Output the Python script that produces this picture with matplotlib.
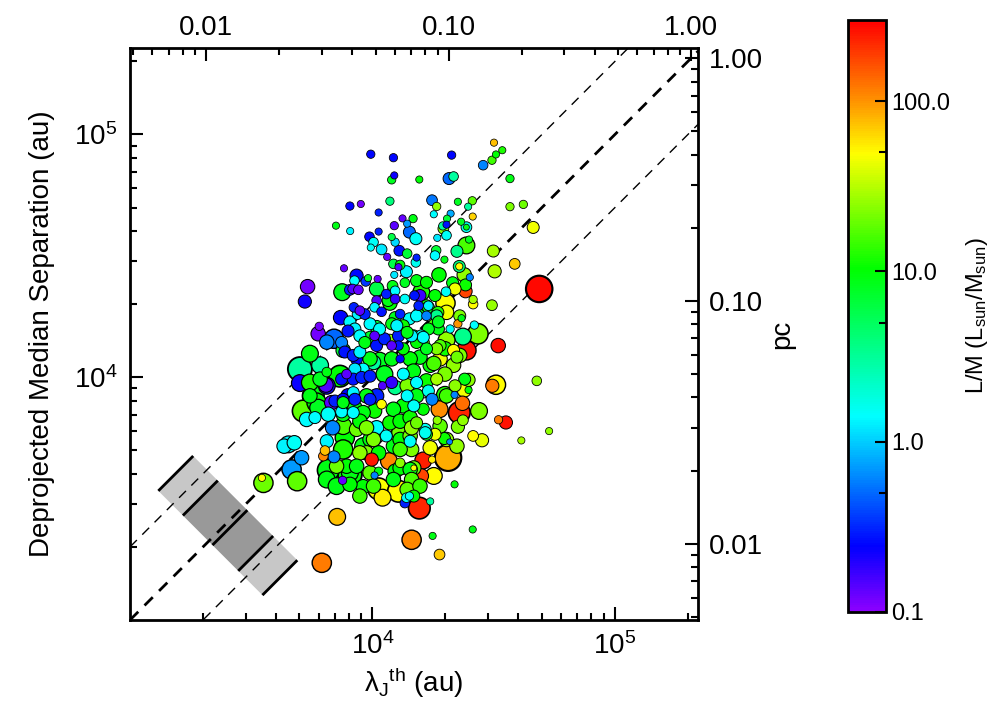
import numpy as np
import matplotlib.pyplot as plt
from matplotlib.colors import LinearSegmentedColormap, LogNorm
from matplotlib.ticker import FixedLocator, LogLocator, NullFormatter
from matplotlib.patches import Polygon

plt.rcParams['font.family'] = ['Liberation Sans', 'DejaVu Sans']
plt.rcParams['mathtext.fontset'] = 'custom'
plt.rcParams['mathtext.rm'] = 'Liberation Sans'
plt.rcParams['mathtext.it'] = 'Liberation Sans:italic'
plt.rcParams['mathtext.default'] = 'regular'

AU_PER_PC = 206265.0

# thermal Jeans length (au), deprojected median separation (au), L/M, core mass
lam_j = [
    # upper-left part of the cloud
    9840, 12200, 12300, 12000, 15600, 17600, 11800, 8070, 8950, 10600,
    7070, 8090, 13300, 14700, 12300, 13900, 14200, 15100, 9720, 10600,
    10100, 10900, 12000, 12400, 12900, 13900, 15200, 11500, 9840, 7630,
    12200, 13000, 15100, 12800, 13800, 12300, 8600, 8430, 9590, 10500,
    5400, 5260, 7500, 8070, 8280, 8750, 9380, 10400, 11400, 12100,
    12400, 13600, 15200, 15900, 15700, 14900, 11800, 12400, 13600, 10400,
    10200, 8680, 8380, 7390, 6940, 5970, 6030, 8870, 9300, 10900,
    12400, 13000, 14200, 15700, 16700, 16700, 10400, 12000, 13400, 8070,
    8460, 9770, 10700, 11800, 12800, 14800, 16200, 8870, 7570,
    # upper-right part
    31700, 34300, 32300, 31100, 21200, 28600, 20700, 21600, 36900, 18400,
    22500, 25800, 24800, 21000, 17900, 20300, 23200, 25900, 20200, 19500,
    19600, 24400, 24400, 20200, 18500, 36900, 41900, 46000, 25000, 24400,
    22300, 18300, 18100, 19800, 31500, 38600, 31900, 22800, 22800, 18800,
    23900, 24200, 25200, 24200, 26000, 31100, 20000, 18100, 17000, 18600,
    21400, 21900, 20100, 16700, 22900, 23300, 22500, 20900, 26300, 27200,
    23600, 18700, 17000, 15900, 24400, 33000, 48700, 21600, 19000, 26000,
    # lower-right part
    47600, 32300, 31200, 24900, 23900, 24900, 21800, 19900, 18900, 23500,
    22800, 27500, 23600, 22500, 18500, 33100, 35500, 53500, 41100, 26000,
    28300, 19800, 20800, 18100, 16700, 16500, 20500, 17600, 16200, 15900,
    21800, 17300, 15600, 25900, 17700, 18900, 24000, 21900, 18400, 17000,
    17600, 16200, 14800, 16500, 19000, 21600, 22300, 19900, 18400, 17300,
    15700, 16700, 15200, 16200,
    # lower-left part
    5020, 5020, 6480, 6430, 7340, 5700, 5180, 5350, 5970, 6790,
    7000, 6570, 6850, 7570, 7460, 8330, 8600, 8870, 10100, 10400,
    8460, 7690, 8600, 9770, 10400, 9450, 10600, 11800, 13000, 12200,
    14300, 9930, 11700, 13000, 14800, 14800, 12400, 10600, 10200, 8070,
    6570, 6270, 6940, 6480, 6370, 7530, 9150, 10600, 12800, 11000,
    14200, 13600, 14800, 4500, 4320, 5100, 4640, 4890, 3550, 3500,
    7150, 14500, 6180, 4760,
    # core of the cloud
    11600, 15200, 15500, 17000, 18400, 18700, 7460, 7690, 8330, 8870,
    9300, 10200, 10400, 11200, 12000, 12800, 13400, 14500, 14300, 13000,
    12000, 10700, 9770, 9150, 8460, 7820, 7460, 8330, 9020, 6480,
    6080, 5520, 5790, 7570, 8460, 9450, 11000, 12400, 13900, 15200,
    13400, 12200, 10900, 10200, 9150, 8330, 7570, 13000, 14300, 15200,
    10100, 11400, 13000, 14300, 13000, 14300, 8870, 7820, 7110, 8070,
    13800,
    # densest part, behind the others
    20200, 17900, 19900, 14750, 13400, 11200, 9770, 12000, 16700, 20200,
    15200, 13900, 9770, 7930, 6080, 5520, 5880, 7570, 8870, 9450,
    14500, 19000, 20200, 17300, 14500, 13000, 9150, 7570, 8600, 9770,
    14500, 12200, 10100, 8070, 6480, 7110, 8870, 13900, 15700, 17900,
    22300, 18100, 22900, 20200, 12600, 9770, 7930, 6480, 5520, 10700,
    13900,
]

sep = [
    82900, 80200, 67800, 65000, 65200, 53600, 53100, 50700, 51700, 47700,
    42100, 40000, 45100, 45000, 42100, 42900, 39600, 37200, 37900, 39800,
    36000, 33600, 37800, 36000, 33200, 32300, 31100, 31300, 34200, 28100,
    29300, 29000, 29700, 28400, 27200, 26400, 26200, 25000, 25600, 25400,
    23600, 20500, 22400, 22900, 23100, 22900, 24800, 23100, 22000, 23800,
    22700, 24500, 25000, 22400, 21700, 21700, 20200, 21000, 21000, 20700,
    19400, 18200, 19400, 17600, 14400, 15100, 16200, 18800, 18200, 18600,
    17600, 18200, 17400, 18800, 19700, 24600, 16100, 16600, 16300, 16900,
    15800, 14600, 14400, 14200, 13500, 14800, 13900, 14800, 12900,
    92500, 86100, 82700, 78300, 82200, 74700, 65800, 67100, 65800, 50500,
    52800, 53300, 50400, 47200, 46900, 45000, 43700, 45900, 42500, 42000,
    40900, 41500, 41500, 38400, 37500, 50400, 51500, 41400, 36900, 34900,
    33000, 33300, 31700, 30500, 33100, 29300, 27300, 28600, 28600, 26400,
    26400, 24000, 25800, 22600, 20900, 19800, 20200, 21700, 19400, 18500,
    24500, 23100, 22500, 17900, 17900, 17500, 16600, 15800, 16400, 15100,
    14700, 15800, 15800, 14800, 12900, 13500, 23100, 12900, 13500, 20000,
    9660, 9310, 9220, 9750, 8860, 8860, 8460, 8460, 7380, 7810,
    7150, 7260, 6650, 6250, 6650, 6680, 6510, 6000, 5490, 5730,
    5500, 5590, 5420, 5820, 5820, 6100, 4660, 4580, 4540, 3920,
    3620, 3080, 2890, 2360, 2220, 1860, 9820, 9220, 9820, 8780,
    8110, 7380, 7620, 5910, 11900, 11200, 12100, 13100, 13100, 11200,
    12100, 13100, 13900, 14600,
    10800, 9460, 10500, 9280, 10100, 8380, 7260, 6700, 7490, 7860,
    7980, 7040, 6190, 8110, 7200, 8640, 11900, 10500, 11500, 8380,
    7490, 5640, 6100, 5540, 6190, 4880, 4880, 6490, 5910, 5200,
    5450, 4580, 4510, 4440, 4230, 4230, 4100, 4100, 3940, 3980,
    4140, 4730, 4700, 5450, 4990, 3760, 3540, 3470, 3390, 3190,
    3240, 3030, 3240, 5290, 5200, 4660, 4170, 3730, 3670, 3850,
    2660, 2140, 1720, 5370,
    20700, 17900, 19700, 19700, 17900, 16900, 13900, 12700, 12300, 12700,
    13900, 14800, 13500, 14400, 13500, 14800, 13100, 14800, 11900, 11900,
    11900, 11700, 11900, 10800, 10800, 10300, 9820, 9820, 9980, 9220,
    9820, 8380, 6820, 7860, 8110, 8380, 9220, 9070, 9220, 9510,
    7620, 7380, 7740, 7260, 7150, 7150, 7040, 6590, 6820, 6490,
    5540, 5730, 5540, 5730, 4230, 4170, 4880, 4300, 4300, 3620,
    3190,
    14200, 11400, 10300, 10600, 10300, 10300, 10100, 9510, 9660, 8380,
    8380, 8380, 8110, 8380, 11200, 9510, 7860, 6290, 6590, 6190,
    6190, 6290, 5540, 5120, 5040, 5040, 5200, 5040, 4300, 4040,
    3790, 3790, 3560, 4040, 3790, 3560, 3240, 3450, 3560, 3920,
    5200, 16300, 12300, 18500, 16300, 16600, 15500, 13950, 12500, 15800,
    15300,
]

lm = [
    0.25, 0.25, 0.22, 8, 10, 0.55, 4, 0.25, 0.12, 0.3,
    9, 1.3, 0.13, 9, 0.14, 0.7, 0.5, 1.5, 0.25, 0.3,
    1.5, 1.2, 6, 1.1, 0.28, 7, 0.3, 0.13, 1.5, 0.13,
    6, 10, 1.6, 0.15, 1.3, 1.2, 0.25, 1.4, 8, 0.13,
    0.12, 0.22, 8, 0.3, 0.15, 0.13, 0.35, 6, 0.3, 9,
    1.4, 8, 9, 12, 0.17, 0.28, 10, 0.18, 1.5, 0.15,
    1.3, 1.3, 0.3, 0.25, 0.5, 0.12, 0.12, 0.14, 0.3, 0.28,
    8, 0.3, 1.5, 9, 12, 10, 7, 9, 11, 1.4,
    1.3, 8, 1.5, 25, 0.28, 10, 22, 1.4, 7,
    75, 12, 10, 15, 0.25, 0.6, 0.5, 3, 9, 25,
    8, 18, 3, 0.8, 1.4, 7, 8, 65, 0.28, 3,
    22, 1.6, 9, 1.5, 1.2, 22, 20, 45, 8, 16,
    3.5, 7, 1.4, 9, 28, 70, 30, 4, 50, 10,
    25, 11, 0.6, 180, 28, 26, 48, 10, 8, 12,
    9, 45, 1.5, 0.6, 22, 9, 100, 1.5, 1.4, 22,
    3.5, 9, 8, 1.6, 260, 270, 280, 50, 16, 50,
    25, 50, 120, 24, 45, 10, 0.6, 12, 105, 130,
    230, 22, 25, 22, 25, 120, 260, 25, 28, 50,
    42, 11, 0.6, 45, 9, 1.5, 85, 55, 240, 180,
    10, 3, 220, 9, 9, 70, 9, 24, 28, 1.6,
    0.6, 10, 1.5, 1.6, 45, 25, 20, 11, 22, 10,
    9, 8, 10, 1.4,
    3, 0.23, 9, 0.15, 10, 9, 18, 1.4, 8, 0.14,
    0.3, 1.5, 0.6, 0.25, 1.4, 1.3, 0.25, 0.35, 3, 0.3,
    9, 10, 20, 9, 1.4, 22, 10, 11, 20, 9,
    1.5, 250, 110, 24, 20, 50, 10, 9, 0.6, 10,
    9, 110, 0.6, 1.3, 75, 0.13, 10, 48, 50, 55,
    1.5, 0.3, 10, 1.3, 1.3, 0.7, 0.7, 18, 20, 50,
    75, 110, 120, 1.5,
    9, 1.4, 0.3, 1.3, 3.5, 8, 0.6, 0.28, 0.3, 1.3,
    9, 0.14, 0.28, 0.3, 0.14, 0.3, 10, 1.3, 10, 0.25,
    9, 8, 9, 1.4, 1.2, 0.14, 0.28, 0.28, 0.3, 0.22,
    8, 9, 1.4, 9, 0.3, 9, 0.15, 3.5, 22, 1.4,
    10, 9, 50, 11, 9, 1.4, 9, 10, 11, 20,
    22, 1.5, 10, 20, 10, 9, 24, 10, 20, 10,
    1.5,
    25, 16, 22, 9, 1.4, 8, 0.3, 0.18, 11, 15,
    9, 1.4, 0.3, 0.25, 3, 12, 10, 16, 10, 22,
    25, 18, 25, 45, 22, 15, 9, 12, 9, 18,
    16, 9, 15, 9, 9, 9, 15, 18, 14, 50,
    25, 16, 22, 45, 1.3, 1.4, 0.28, 0.6, 9, 1.5,
    9,
]

mass = [
    12, 12, 9, 12, 9, 20, 12, 12, 9, 9,
    9, 9, 9, 12, 12, 9, 25, 25, 16, 9,
    16, 20, 9, 12, 20, 16, 9, 9, 9, 9,
    16, 16, 16, 9, 25, 9, 30, 16, 9, 9,
    36, 30, 49, 20, 16, 16, 16, 36, 16, 20,
    16, 16, 25, 49, 25, 16, 36, 16, 16, 16,
    16, 20, 16, 36, 64, 36, 12, 16, 20, 16,
    25, 16, 25, 25, 25, 25, 30, 25, 25, 25,
    25, 25, 25, 25, 16, 25, 25, 25, 36,
    9, 9, 9, 12, 12, 16, 25, 16, 12, 12,
    9, 12, 9, 9, 9, 9, 9, 9, 9, 12,
    20, 20, 6, 16, 9, 12, 12, 25, 9, 49,
    25, 16, 16, 9, 25, 20, 30, 25, 9, 36,
    36, 25, 9, 30, 12, 20, 64, 25, 25, 25,
    25, 25, 16, 16, 25, 9, 12, 12, 12, 72,
    49, 25, 25, 25, 64, 36, 121, 25, 25, 16,
    16, 64, 30, 30, 36, 9, 9, 49, 49, 36,
    81, 49, 20, 30, 12, 12, 30, 9, 9, 20,
    30, 25, 6, 25, 25, 25, 121, 9, 49, 36,
    9, 9, 81, 9, 9, 20, 25, 25, 25, 25,
    25, 25, 25, 25, 36, 36, 25, 36, 25, 36,
    36, 25, 25, 25,
    100, 49, 16, 36, 81, 81, 81, 36, 49, 36,
    25, 36, 36, 25, 25, 25, 25, 25, 36, 36,
    36, 64, 36, 36, 36, 36, 36, 36, 49, 36,
    25, 30, 49, 16, 36, 6, 36, 12, 9, 100,
    81, 16, 25, 30, 16, 12, 36, 81, 81, 49,
    12, 16, 25, 49, 36, 36, 64, 64, 64, 9,
    49, 64, 64, 36,
    25, 25, 16, 16, 25, 25, 25, 25, 25, 25,
    25, 16, 25, 25, 16, 25, 25, 25, 36, 12,
    36, 49, 36, 25, 25, 16, 25, 25, 25, 49,
    36, 36, 25, 25, 25, 36, 12, 36, 36, 25,
    36, 36, 16, 36, 36, 25, 36, 36, 36, 25,
    36, 25, 36, 36, 36, 36, 36, 36, 36, 36,
    16,
    49, 36, 36, 36, 25, 49, 25, 25, 36, 36,
    36, 25, 25, 36, 49, 49, 64, 49, 36, 36,
    36, 36, 36, 36, 36, 36, 49, 64, 36, 36,
    36, 36, 36, 49, 49, 49, 36, 36, 36, 49,
    36, 36, 36, 36, 25, 25, 25, 36, 49, 25,
    25,
]

# dashed guide lines: separation = ratio * lambda_J
line_ratio = [0.5, 1.0, 2.0]

# grey uncertainty band (separation / lambda_J ratios along a line of constant product)
band_ratio = [2.6, 1.63, 0.93, 0.57, 0.36]
band_product = 6.2e6
band_halfwidth = 1.18

assert len(lam_j) == len(sep) == len(lm) == len(mass), (len(lam_j), len(sep), len(lm), len(mass))

lam_j = np.array(lam_j, float)
sep = np.array(sep, float)
lm = np.array(lm, float)
mass = np.array(mass, float)

cmap = LinearSegmentedColormap.from_list('idl_rainbow', [
    (0.0, (0.55, 0.0, 1.0)),
    (0.11, (0.0, 0.0, 1.0)),
    (0.22, (0.0, 0.5, 1.0)),
    (0.33, (0.0, 1.0, 1.0)),
    (0.58, (0.0, 1.0, 0.0)),
    (0.775, (1.0, 1.0, 0.0)),
    (0.87, (1.0, 0.55, 0.0)),
    (1.0, (1.0, 0.0, 0.0)),
])
norm = LogNorm(vmin=0.1, vmax=300)

XLIM = (1000, 2.2e5)
YLIM = (1000, 2.27e5)

fig = plt.figure(figsize=(9.97, 7.12), dpi=100)
ax = fig.add_axes([130/997, 92/712, 568/997, 572/712])
ax.set_xscale('log')
ax.set_yscale('log')
ax.set_xlim(*XLIM)
ax.set_ylim(*YLIM)

# grey band
bx = np.sqrt(band_product / np.array(band_ratio))
by = np.sqrt(band_product * np.array(band_ratio))
w = band_halfwidth
for i in range(len(band_ratio) - 1):
    shade = '0.78' if i in (0, 3) else '0.6'
    poly = [(bx[i]/w, by[i]/w), (bx[i]*w, by[i]*w),
            (bx[i+1]*w, by[i+1]*w), (bx[i+1]/w, by[i+1]/w)]
    ax.add_patch(Polygon(poly, closed=True, facecolor=shade, edgecolor='none', zorder=1))
for i in range(len(band_ratio)):
    ax.plot([bx[i]/w, bx[i]*w], [by[i]/w, by[i]*w], color='black', lw=2.0,
            solid_capstyle='butt', zorder=1.5)

xx = np.array(XLIM)
for r in line_ratio:
    if r == 1.0:
        ax.plot(xx, r*xx, color='black', lw=2.0, ls=(0, (4.2, 3.2)), zorder=2)
    else:
        ax.plot(xx, r*xx, color='black', lw=1.0, ls=(0, (7, 5.5)), zorder=2)

order = np.argsort(-mass, kind='stable')
sc = ax.scatter(lam_j[order], sep[order], c=lm[order], s=3.0*mass[order],
                cmap=cmap, norm=norm, edgecolors='black',
                linewidths=0.45 + 0.009*mass[order], zorder=3)

for s in ax.spines.values():
    s.set_linewidth(2.0)
ax.tick_params(which='both', direction='in', top=False, right=False,
               labelsize=20, width=1.5, pad=9)
ax.tick_params(which='major', length=9.5)
ax.tick_params(which='minor', length=5)
ax.xaxis.set_major_locator(FixedLocator([1e4, 1e5]))
ax.yaxis.set_major_locator(FixedLocator([1e4, 1e5]))
ax.xaxis.set_minor_locator(LogLocator(subs=np.arange(2, 10)))
ax.yaxis.set_minor_locator(LogLocator(subs=np.arange(2, 10)))
ax.xaxis.set_minor_formatter(NullFormatter())
ax.yaxis.set_minor_formatter(NullFormatter())
ax.set_xlabel(r'λ$_\mathrm{J}{}^\mathrm{th}$ (au)', fontsize=20, labelpad=4)
ax.set_ylabel('Deprojected Median Separation (au)', fontsize=20, labelpad=14)

pc_ticks = [0.01, 0.1, 1.0]
pc_labels = ['0.01', '0.10', '1.00']
pc_minor = [k*10.0**e for e in (-3, -2, -1) for k in range(2, 10)]

secx = ax.secondary_xaxis('top', functions=(lambda x: x/AU_PER_PC, lambda x: x*AU_PER_PC))
secx.set_xticks(pc_ticks, labels=pc_labels)
secx.xaxis.set_minor_locator(FixedLocator(pc_minor))
secx.xaxis.set_minor_formatter(NullFormatter())
secx.tick_params(which='both', direction='in', labelsize=20, width=1.5, pad=5)
secx.tick_params(which='major', length=9.5)
secx.tick_params(which='minor', length=5)

secy = ax.secondary_yaxis('right', functions=(lambda y: y/AU_PER_PC, lambda y: y*AU_PER_PC))
secy.set_yticks(pc_ticks, labels=pc_labels)
secy.yaxis.set_minor_locator(FixedLocator(pc_minor))
secy.yaxis.set_minor_formatter(NullFormatter())
secy.tick_params(which='both', direction='in', labelsize=20, width=1.5, pad=8)
secy.tick_params(which='major', length=9.5)
secy.tick_params(which='minor', length=5)
secy.set_ylabel('pc', fontsize=20, labelpad=4)

cax = fig.add_axes([848/997, 100/712, 38/997, 592/712])
cb = fig.colorbar(sc, cax=cax)
cb.set_ticks([0.1, 1, 10, 100], labels=['0.1', '1.0', '10.0', '100.0'])
cb.ax.yaxis.set_minor_locator(FixedLocator([0.5, 5, 50]))
cb.ax.yaxis.set_minor_formatter(NullFormatter())
cb.ax.tick_params(which='both', direction='in', labelsize=17, width=1.5)
cb.ax.tick_params(which='major', length=8)
cb.ax.tick_params(which='minor', length=5)
cb.outline.set_linewidth(2.0)
cb.set_label(r'L/M (L$_\mathrm{sun}$/M$_\mathrm{sun}$)', fontsize=17, labelpad=10)

fig.savefig('out.png', dpi=100)
